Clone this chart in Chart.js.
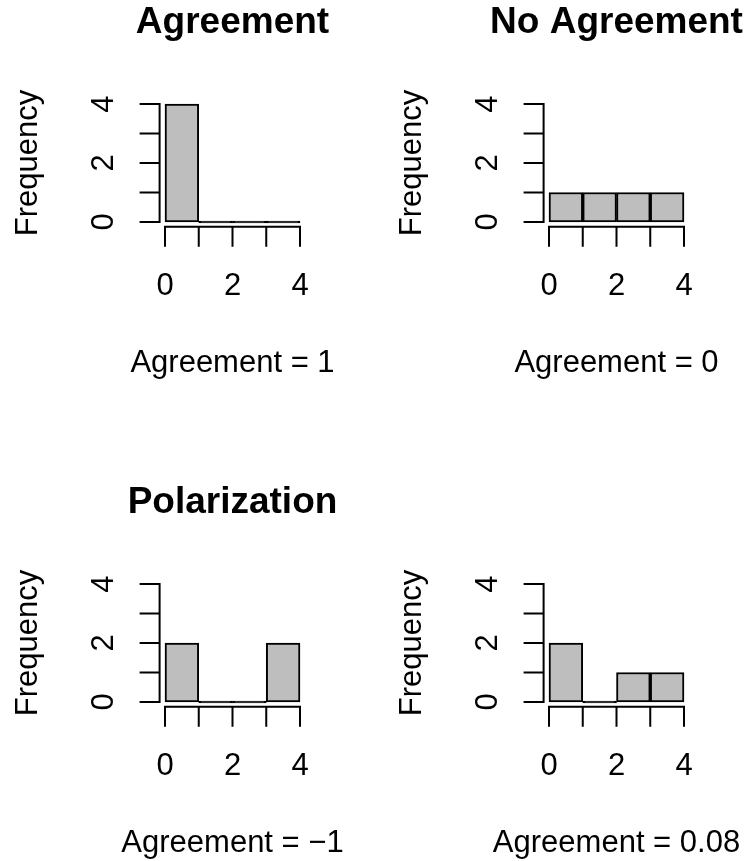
<!DOCTYPE html>
<html>
<head>
<meta charset="utf-8">
<script src="https://cdn.jsdelivr.net/npm/chart.js@4.4.0/dist/chart.umd.min.js"></script>
<style>
  body { margin: 0; background: #fff; overflow: hidden; }
  #wrap { position: relative; width: 748px; height: 861px; }
  canvas { position: absolute; }
</style>
</head>
<body>
<div id="wrap">
  <canvas id="c0"></canvas>
  <canvas id="c1"></canvas>
  <canvas id="c2"></canvas>
  <canvas id="c3"></canvas>
</div>
<script>
// histogram bins (breaks) and counts per panel
const breaks = [0, 1, 2, 3, 4];
const agreementCounts = [4, 0, 0, 0];
const noAgreementCounts = [1, 1, 1, 1];
const polarizationCounts = [2, 0, 0, 2];
const mixedCounts = [2, 0, 1, 1];

const panelTitles = ['Agreement', 'No Agreement', 'Polarization', ''];
const panelSubs = ['Agreement = 1', 'Agreement = 0', 'Agreement = \u22121', 'Agreement = 0.08'];
const panelCounts = [agreementCounts, noAgreementCounts, polarizationCounts, mixedCounts];

const xTicks = [0, 1, 2, 3, 4];
const xTickLabels = [0, 2, 4];
const yTicks = [0, 1, 2, 3, 4];
const yTickLabels = [0, 2, 4];
const yLabel = 'Frequency';

const FONT = '"Liberation Sans", Arial, Helvetica, sans-serif';
const W = 364, H = 381;

// R-style detached axes, labels and titles
const rAxes = {
    id: 'rAxes',
    afterDraw(chart, args, opts) {
        const ctx = chart.ctx;
        const xs = chart.scales.x;
        const ys = chart.scales.y;
        const area = chart.chartArea;
        const mid = (area.left + area.right) / 2;
        ctx.save();
        ctx.strokeStyle = '#000';
        ctx.fillStyle = '#000';
        ctx.lineWidth = 2;
        ctx.lineCap = 'butt';

        // y axis
        ctx.beginPath();
        ctx.moveTo(area.left, ys.getPixelForValue(yTicks[0]) + 1);
        ctx.lineTo(area.left, ys.getPixelForValue(yTicks[yTicks.length - 1]) - 1);
        yTicks.forEach(v => {
            const py = ys.getPixelForValue(v);
            ctx.moveTo(area.left, py);
            ctx.lineTo(area.left - 20, py);
        });
        ctx.stroke();

        // x axis
        ctx.beginPath();
        ctx.moveTo(xs.getPixelForValue(xTicks[0]) - 1, area.bottom);
        ctx.lineTo(xs.getPixelForValue(xTicks[xTicks.length - 1]) + 1, area.bottom);
        xTicks.forEach(v => {
            const px = xs.getPixelForValue(v);
            ctx.moveTo(px, area.bottom);
            ctx.lineTo(px, area.bottom + 20);
        });
        ctx.stroke();

        ctx.font = '31px ' + FONT;
        ctx.textAlign = 'center';
        ctx.textBaseline = 'alphabetic';
        xTickLabels.forEach(v => {
            ctx.fillText(String(v), xs.getPixelForValue(v), area.bottom + 68);
        });

        yTickLabels.forEach(v => {
            ctx.save();
            ctx.translate(area.left - 47, ys.getPixelForValue(v));
            ctx.rotate(-Math.PI / 2);
            ctx.fillText(String(v), 0, 0);
            ctx.restore();
        });

        ctx.save();
        ctx.translate(area.left - 123, ys.getPixelForValue(2));
        ctx.rotate(-Math.PI / 2);
        ctx.fillText(yLabel, 0, 0);
        ctx.restore();

        ctx.fillText(opts.sub, mid, 372);

        if (opts.title) {
            ctx.font = 'bold 37px ' + FONT;
            ctx.fillText(opts.title, mid, 33);
        }
        ctx.restore();
    }
};

function histChart(i) {
    const el = document.getElementById('c' + i);
    el.width = W;
    el.height = H;
    el.style.left = (i % 2) * 384 + 'px';
    el.style.top = Math.floor(i / 2) * 480 + 'px';
    const pts = panelCounts[i].map((c, k) => ({ x: (breaks[k] + breaks[k + 1]) / 2, y: c }));
    new Chart(el.getContext('2d'), {
        type: 'bar',
        data: {
            datasets: [
                {
                    data: pts,
                    // empty bins show as a flat black outline, like R
                    backgroundColor: c => (c.raw && c.raw.y === 0 ? '#000' : '#bebebe'),
                    borderColor: '#000',
                    borderWidth: 2,
                    borderSkipped: false,
                    minBarLength: 2,
                    barPercentage: 1,
                    categoryPercentage: 1,
                },
            ],
        },
        options: {
            responsive: false,
            animation: false,
            devicePixelRatio: 1,
            layout: {
                padding: { left: 159.6, right: W - 305.4, top: 99.3, bottom: H - 226.7 },
            },
            scales: {
                x: { type: 'linear', min: -0.16, max: 4.16, offset: false, display: false },
                y: { type: 'linear', min: -0.16, max: 4.16, display: false },
            },
            plugins: {
                legend: { display: false },
                tooltip: { enabled: false },
                rAxes: { title: panelTitles[i], sub: panelSubs[i] },
            },
        },
        plugins: [rAxes],
    });
}

[0, 1, 2, 3].forEach(histChart);
</script>
</body>
</html>
